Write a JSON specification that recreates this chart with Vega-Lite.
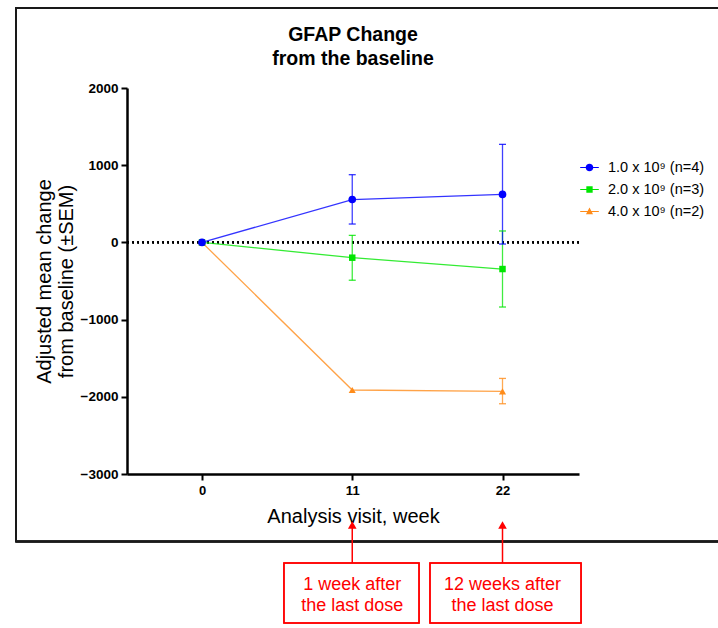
{
  "$schema": "https://vega.github.io/schema/vega-lite/v6.json",
  "width": 452,
  "height": 386,
  "autosize": {"type": "none"},
  "padding": {"left": 127, "top": 88, "right": 139, "bottom": 154},
  "background": "white",
  "config": {
    "font": "Liberation Sans",
    "view": {"stroke": null},
    "axis": {"labelColor": "black", "titleColor": "black", "domainColor": "black", "tickColor": "black", "grid": false, "labelFont": "Liberation Sans", "titleFont": "Liberation Sans"}
  },
  "title": {
    "text": ["GFAP Change", "from the baseline"],
    "font": "Liberation Sans",
    "fontSize": 19.5,
    "fontWeight": "bold",
    "color": "black",
    "lineHeight": 24,
    "anchor": "middle",
    "frame": "group",
    "offset": -62.5
  },
  "resolve": {"legend": {"color": "independent"}},
  "datasets": {
    "series": [
      {"dose": "4.0 x 10⁹ (n=2)", "week": 0, "mean": 0, "low": null, "high": null},
      {"dose": "4.0 x 10⁹ (n=2)", "week": 11, "mean": -1912, "low": null, "high": null},
      {"dose": "4.0 x 10⁹ (n=2)", "week": 22, "mean": -1930, "low": -2090, "high": -1762},
      {"dose": "2.0 x 10⁹ (n=3)", "week": 0, "mean": 0, "low": null, "high": null},
      {"dose": "2.0 x 10⁹ (n=3)", "week": 11, "mean": -198, "low": -490, "high": 91},
      {"dose": "2.0 x 10⁹ (n=3)", "week": 22, "mean": -345, "low": -837, "high": 148},
      {"dose": "1.0 x 10⁹ (n=4)", "week": 0, "mean": 0, "low": null, "high": null},
      {"dose": "1.0 x 10⁹ (n=4)", "week": 11, "mean": 555, "low": 238, "high": 877},
      {"dose": "1.0 x 10⁹ (n=4)", "week": 22, "mean": 622, "low": -21, "high": 1270}
    ],
    "notes": [
      {"week": 11, "note": "1 week after\nthe last dose"},
      {"week": 22, "note": "12 weeks after\nthe last dose"}
    ]
  },
  "layer": [
    {
      "data": {"name": "series"},
      "mark": {"type": "rect", "fill": "transparent", "stroke": "#1a1a1a", "strokeWidth": 1.5, "clip": false},
      "encoding": {
        "x": {"datum": -13.6, "type": "quantitative", "scale": {"domain": [-5.49, 27.6], "nice": false, "zero": false}},
        "x2": {"datum": 38.5},
        "y": {"datum": 3036, "type": "quantitative", "scale": {"domain": [-3000, 2000], "nice": false, "zero": false}},
        "y2": {"datum": -3874}
      }
    },
    {
      "data": {"name": "series"},
      "mark": {"type": "rule", "color": "black", "strokeDash": [1.6, 3.4], "strokeWidth": 1.6, "clip": false},
      "encoding": {"y": {"datum": 0, "type": "quantitative"}}
    },
    {
      "data": {"name": "series"},
      "mark": {"type": "line", "strokeWidth": 1.3, "opacity": 0.8, "clip": false},
      "encoding": {
        "x": {"field": "week", "type": "quantitative"},
        "y": {"field": "mean", "type": "quantitative"},
        "color": {"field": "dose", "type": "nominal", "legend": null}
      }
    },
    {
      "data": {"name": "series"},
      "mark": {"type": "rule", "strokeWidth": 1.3, "opacity": 0.75, "clip": false},
      "encoding": {
        "x": {"field": "week", "type": "quantitative"},
        "y": {"field": "low", "type": "quantitative"},
        "y2": {"field": "high"},
        "color": {"field": "dose", "type": "nominal", "legend": null}
      }
    },
    {
      "data": {"name": "series"},
      "mark": {"type": "tick", "orient": "horizontal", "size": 7, "thickness": 1.3, "opacity": 0.8, "clip": false},
      "encoding": {
        "x": {"field": "week", "type": "quantitative"},
        "y": {"field": "low", "type": "quantitative"},
        "color": {"field": "dose", "type": "nominal", "legend": null}
      }
    },
    {
      "data": {"name": "series"},
      "mark": {"type": "tick", "orient": "horizontal", "size": 7, "thickness": 1.3, "opacity": 0.8, "clip": false},
      "encoding": {
        "x": {"field": "week", "type": "quantitative"},
        "y": {"field": "high", "type": "quantitative"},
        "color": {"field": "dose", "type": "nominal", "legend": null}
      }
    },
    {
      "data": {"name": "series"},
      "transform": [{"filter": "datum.dose[0] === '4'"}],
      "mark": {"type": "point", "shape": "triangle-up", "filled": true, "opacity": 1, "size": 50, "clip": false},
      "encoding": {
        "x": {"field": "week", "type": "quantitative"},
        "y": {"field": "mean", "type": "quantitative"},
        "color": {"field": "dose", "type": "nominal", "legend": null}
      }
    },
    {
      "data": {"name": "series"},
      "transform": [{"filter": "datum.dose[0] === '2'"}],
      "mark": {"type": "point", "shape": "square", "filled": true, "opacity": 1, "size": 42, "clip": false},
      "encoding": {
        "x": {"field": "week", "type": "quantitative"},
        "y": {"field": "mean", "type": "quantitative"},
        "color": {"field": "dose", "type": "nominal", "legend": null}
      }
    },
    {
      "data": {"name": "series"},
      "transform": [{"filter": "datum.dose[0] === '1'"}],
      "mark": {"type": "point", "shape": "circle", "filled": true, "opacity": 1, "size": 58, "clip": false},
      "encoding": {
        "x": {
          "field": "week", "type": "quantitative",
          "axis": {"values": [0, 11, 22], "format": "d", "title": "Analysis visit, week", "titleFontSize": 20, "titleFontWeight": "normal", "titlePadding": 9, "labelFontSize": 13, "labelFontWeight": "bold", "labelPadding": 4, "domainWidth": 2.5, "tickWidth": 2, "tickSize": 6}
        },
        "y": {
          "field": "mean", "type": "quantitative",
          "axis": {"values": [-3000, -2000, -1000, 0, 1000, 2000], "format": "d", "title": ["Adjusted mean change", "from baseline (±SEM)"], "titleFontSize": 20, "titleFontWeight": "normal", "titleLineHeight": 22, "titlePadding": 4, "labelFontSize": 13.5, "labelFontWeight": "bold", "labelPadding": 3, "domainWidth": 2.5, "tickWidth": 2, "tickSize": 6}
        },
        "color": {
          "field": "dose", "type": "nominal",
          "scale": {"domain": ["1.0 x 10⁹ (n=4)", "2.0 x 10⁹ (n=3)", "4.0 x 10⁹ (n=2)"], "range": ["#0000ff", "#00e600", "#ff8c1a"]},
          "legend": {
            "orient": "none", "legendX": 453, "legendY": 70, "title": null,
            "labelFont": "Liberation Sans", "labelFontSize": 14.5, "labelColor": "black",
            "symbolSize": 346, "rowPadding": 6, "labelOffset": 9, "symbolStrokeWidth": 0, "symbolOpacity": 1, "padding": 0,
            "encode": {
              "symbols": {
                "update": {
                  "shape": {"signal": "datum.value[0] === '1' ? 'M-1,-0.06H1V0.06H-1Z M-0.41,0A0.41,0.41 0 1,1 0.41,0A0.41,0.41 0 1,1 -0.41,0Z' : datum.value[0] === '2' ? 'M-1,-0.06H1V0.06H-1Z M-0.34,-0.34H0.34V0.34H-0.34Z' : 'M-1,-0.06H1V0.06H-1Z M0,-0.42L0.38,0.3L-0.38,0.3Z'"},
                  "opacity": {"value": 1},
                  "strokeWidth": {"value": 0}
                }
              }
            }
          }
        }
      }
    },
    {
      "data": {"name": "notes"},
      "mark": {"type": "rule", "color": "#ff0000", "strokeWidth": 1.5, "clip": false},
      "encoding": {
        "x": {"field": "week", "type": "quantitative"},
        "y": {"datum": -3680, "type": "quantitative"},
        "y2": {"datum": -4153}
      }
    },
    {
      "data": {"name": "notes"},
      "mark": {"type": "point", "shape": "triangle-up", "filled": true, "color": "#ff0000", "opacity": 1, "size": 75, "clip": false},
      "encoding": {
        "x": {"field": "week", "type": "quantitative"},
        "y": {"datum": -3661, "type": "quantitative"}
      }
    },
    {
      "data": {"name": "notes"},
      "mark": {"type": "rect", "fill": "transparent", "stroke": "#ff0000", "strokeWidth": 1.5, "clip": false},
      "encoding": {
        "x": {"datum": 6.0, "type": "quantitative"},
        "x2": {"datum": 15.89},
        "y": {"datum": -4153, "type": "quantitative"},
        "y2": {"datum": -4930}
      }
    },
    {
      "data": {"name": "notes"},
      "mark": {"type": "rect", "fill": "transparent", "stroke": "#ff0000", "strokeWidth": 1.5, "clip": false},
      "encoding": {
        "x": {"datum": 16.69, "type": "quantitative"},
        "x2": {"datum": 27.75},
        "y": {"datum": -4153, "type": "quantitative"},
        "y2": {"datum": -4930}
      }
    },
    {
      "data": {"name": "notes"},
      "mark": {"type": "text", "color": "#ff0000", "font": "Liberation Sans", "fontSize": 18, "lineBreak": "\n", "lineHeight": 21, "align": "center", "baseline": "middle", "clip": false},
      "encoding": {
        "x": {"field": "week", "type": "quantitative"},
        "y": {"datum": -4440, "type": "quantitative"},
        "text": {"field": "note"}
      }
    }
  ]
}
